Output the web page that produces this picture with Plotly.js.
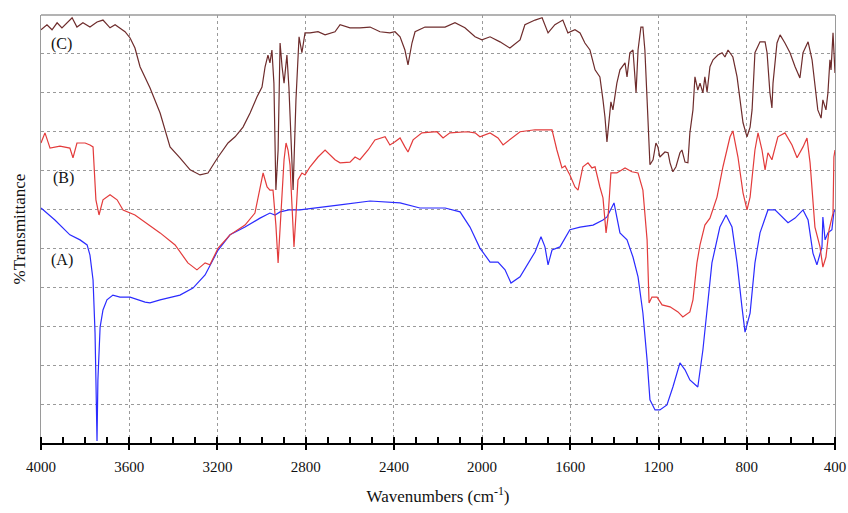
<!DOCTYPE html>
<html>
<head>
<meta charset="utf-8">
<script src="https://cdn.plot.ly/plotly-3.0.1.min.js"></script>
<style>html,body{margin:0;padding:0;background:#fff;}#chart{width:848px;height:513px;}</style>
</head>
<body>
<div id="chart"></div>
<script>
// Wavenumbers (cm-1) and %Transmittance (arbitrary offset scale)
const wnA = [4000,3937,3869,3823,3791,3778,3764,3755,3751,3746,3742,3737,3732,3719,3701,3674,3642,3596,3528,3506,3460,3370,3311,3256,3197,3143,3075,3007,2962,2939,2916,2876,2826,2644,2508,2372,2282,2168,2100,2055,2010,1964,1928,1896,1869,1828,1760,1733,1715,1701,1683,1647,1602,1556,1497,1452,1434,1402,1389,1375,1343,1316,1293,1271,1252,1239,1216,1194,1162,1135,1103,1080,1058,1022,999,980,958,922,894,867,844,822,808,785,763,740,704,672,613,581,545,522,500,482,459,455,445,432,414,405,400];
const tA  = [60.4,57.3,53.5,52.2,50.9,48.3,41.9,28.3,16.2,0.5,16.2,25.2,29.8,34.2,36.8,38,37.5,37.5,36.2,36,36.8,38,39.8,43.2,49.6,53.5,55.5,57.8,59.1,58.6,59.4,59.9,59.9,61.2,62.2,61.7,60.4,60.4,59.4,55.5,50.1,46.5,46.5,44.5,41.1,42.7,49.1,53,50.4,45.8,49.6,50.4,54.8,55.5,56,57.3,58.1,61.7,58.1,54,52.2,47.8,42.7,33.4,21.3,11.1,8.5,8.5,9.8,14.4,20.6,18.8,16.2,14.4,23.9,35,46.3,55.5,58.6,55.5,46.3,35,28.5,33.4,46.3,54,59.9,59.9,56.6,57.8,59.9,57.3,48.8,45.8,50.4,58.1,52.2,54,54.8,59.4,59.9];

const wnB = [4000,3982,3959,3914,3869,3855,3837,3800,3778,3764,3751,3737,3719,3687,3655,3628,3574,3460,3392,3334,3293,3256,3234,3197,3143,3075,3030,3007,2993,2975,2962,2948,2935,2925,2912,2898,2889,2880,2871,2862,2853,2844,2835,2817,2803,2780,2744,2712,2667,2644,2599,2576,2554,2517,2486,2440,2418,2395,2372,2350,2336,2313,2273,2205,2177,2146,2069,2032,2010,1964,1928,1905,1874,1828,1760,1683,1661,1647,1638,1624,1602,1579,1565,1543,1520,1502,1488,1466,1452,1438,1429,1416,1389,1352,1321,1293,1271,1252,1243,1230,1207,1184,1148,1112,1090,1058,1044,1026,1012,990,967,935,908,876,863,840,817,799,785,763,749,731,717,704,686,659,627,595,572,545,527,513,491,468,455,441,427,409,405,400];
const tB  = [77.1,79.7,75.8,76.3,75.8,73.3,77.1,77.1,76.6,76.1,62.5,58.6,62.5,63.8,62.5,59.9,58.6,54,50.9,46.3,44.5,46.3,45.8,50.1,53.5,56,59.1,65.8,69.4,65.8,65,65,56,46.3,59.9,72.8,77.1,75.3,71.5,58.6,50.4,58.6,67.6,69.4,68.9,71,73.5,75.3,72.8,72,72.2,73.5,72.8,75.3,77.9,78.7,76.6,77.4,78.4,76.1,74.8,77.9,79.7,80,78.4,79.7,80,79.7,78.7,79.7,78.4,76.6,77.9,80,80.5,80.5,75.3,72.8,70.7,71.2,68.9,65.8,65,71,72,70.7,71,65.8,63,54,58.1,69.4,69.4,70.7,69.7,69.4,65,52.2,36,37.5,37.5,35.5,35,33.7,32.4,33.7,36.8,46.3,50.9,56,57.8,63.2,71,78.7,80.2,73.5,64.3,59.9,63.2,75.3,79.7,75.3,70.2,74.6,72.8,78.7,79.7,76.6,73.3,76.1,78.4,72,55.5,50.4,45.2,47.8,54.8,59.1,73.5,75.3];

const wnC = [4000,3973,3950,3927,3905,3882,3859,3837,3810,3778,3746,3719,3687,3664,3642,3619,3596,3574,3551,3506,3460,3415,3370,3324,3279,3243,3225,3197,3152,3120,3084,3052,3021,2998,2984,2971,2962,2953,2944,2935,2925,2916,2907,2898,2885,2876,2857,2844,2830,2817,2803,2780,2744,2712,2667,2644,2599,2554,2508,2463,2418,2395,2372,2350,2336,2318,2304,2259,2168,2123,2078,2032,2001,1964,1919,1874,1828,1806,1760,1728,1701,1670,1634,1611,1579,1556,1534,1511,1488,1466,1452,1443,1434,1425,1416,1407,1389,1375,1352,1343,1330,1316,1302,1293,1280,1271,1262,1252,1243,1239,1225,1212,1203,1194,1171,1157,1148,1135,1121,1103,1094,1080,1067,1058,1044,1035,1022,1012,999,990,980,967,953,931,912,899,885,863,844,831,817,799,785,776,763,740,717,708,695,686,681,663,649,627,604,581,559,545,522,504,491,478,463,455,441,432,423,418,409,405,400];
const tC  = [106.2,107.5,106.2,108,106.7,108,109.3,106.9,108,106.9,108.2,108.7,106.7,107.5,106.7,105.7,104.1,101.5,96.7,91.3,84.8,76.1,73.3,70.2,68.9,69.4,71,73.5,77.1,78.7,81.2,84.8,88.9,91.5,96.7,99.7,97.7,101,92.5,65,75.3,102.8,96.7,92.5,99.7,91.5,65,88.2,104.4,100.3,105.4,105.4,105.7,104.9,105.7,107.5,106.7,106.7,106.9,105.7,105.4,105.7,104.4,101,97.2,102.8,105.7,106.9,106.9,108,106.7,104.4,103.6,104.4,103.1,101.5,103.6,107.5,108.7,109.3,105.4,107.5,108.7,105.4,106.2,105.4,102.8,101,95.9,94.1,88.2,83.8,77.4,83,87.7,85.6,92.5,95.9,97.7,94.1,100.3,101,90,101,106.9,106.9,101,88.2,75.3,71.5,72.8,77.1,76.1,73.5,74.8,74.6,72,69.7,71,74.6,75.3,72.2,72,79.7,85.6,94.1,90.7,92.5,90,94.1,90.2,96.7,98.5,99.7,100.3,99.2,101,99.2,94.1,88.2,82.3,78.7,81.2,85.6,100.3,103.1,103.1,100.3,90,86.1,92.5,102.8,104.9,102.8,100.3,96.7,93.8,100.3,103.1,98.5,92.5,85.6,83.5,88.2,85.6,90,98.5,95.9,105.4,101,95.1];

const seriesNames = ['(A)', '(B)', '(C)'];
const labelWn = [3905, 3900, 3905];
const labelT = [47, 68.1, 102.6];

const serif = '"Liberation Serif", "Times New Roman", serif';
const traces = [
  {x: wnA, y: tA, mode: 'lines', line: {color: '#2b2bff', width: 1.2}, name: seriesNames[0]},
  {x: wnB, y: tB, mode: 'lines', line: {color: '#e33b3b', width: 1.2}, name: seriesNames[1]},
  {x: wnC, y: tC, mode: 'lines', line: {color: '#6e2c2c', width: 1.2}, name: seriesNames[2]}
];

const layout = {
  width: 848, height: 513,
  margin: {l: 41, r: 13, t: 15, b: 70},
  paper_bgcolor: '#fff', plot_bgcolor: '#fff',
  showlegend: false,
  font: {family: serif, color: '#111', size: 15},
  xaxis: {
    range: [4000, 400],
    tickmode: 'linear', tick0: 400, dtick: 400,
    ticks: 'outside', ticklen: 5, tickwidth: 2, tickcolor: '#000',
    minor: {tickmode: 'linear', tick0: 400, dtick: 100, ticks: 'inside', ticklen: 6, tickwidth: 2, tickcolor: '#000', showgrid: false},
    showline: true, linecolor: '#000', linewidth: 2,
    showgrid: true, gridcolor: '#9a9a9a', gridwidth: 1, griddash: 'dot',
    zeroline: false,
    tickfont: {family: serif, size: 15, color: '#111'},
    ticklabelstandoff: 4,
    title: {text: 'Wavenumbers (cm<sup>-1</sup>)', font: {family: serif, size: 17, color: '#111'}, standoff: 16}
  },
  yaxis: {
    range: [0, 110], dtick: 10, tick0: 0,
    showticklabels: false, ticks: '',
    showline: true, linecolor: '#9a9a9a', linewidth: 1, mirror: true,
    showgrid: true, gridcolor: '#9a9a9a', gridwidth: 1, griddash: 'dot',
    zeroline: false,
    title: {text: '%Transmittance', font: {family: serif, size: 17, color: '#111'}, standoff: 10}
  },
  shapes: [
    {type: 'line', xref: 'paper', yref: 'paper', x0: 0, x1: 1, y0: 1, y1: 1, line: {color: '#9a9a9a', width: 1.5}}
  ],
  annotations: seriesNames.map((n, i) => ({
    x: labelWn[i], y: labelT[i], xref: 'x', yref: 'y', text: n, showarrow: false,
    font: {family: serif, size: 16, color: '#111'}
  }))
};

Plotly.newPlot('chart', traces, layout, {staticPlot: true, displayModeBar: false});
</script>
</body>
</html>
